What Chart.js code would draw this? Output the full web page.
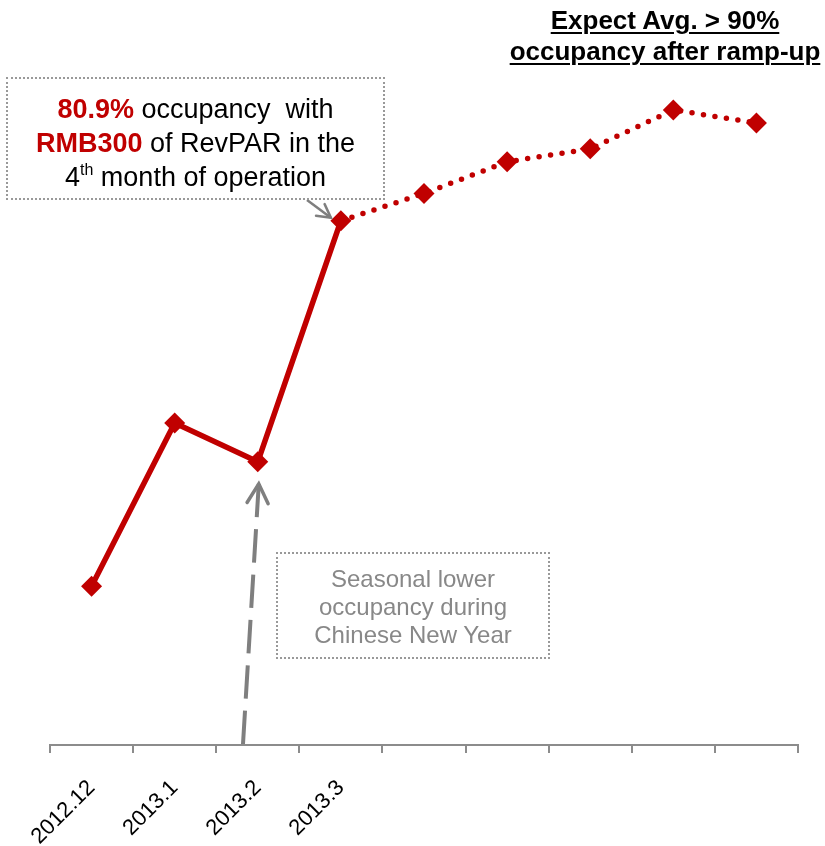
<!DOCTYPE html>
<html><head><meta charset="utf-8">
<script src="https://cdn.jsdelivr.net/npm/chart.js@4.4.1/dist/chart.umd.min.js"></script>
<style>
html,body{margin:0;padding:0;background:#fff;overflow:hidden;}
#wrap{position:relative;width:825px;height:846px;overflow:hidden;font-family:"Liberation Sans",Arial,sans-serif;}
#c{position:absolute;left:0;top:0;}
.title{position:absolute;left:465px;width:400px;top:5px;text-align:center;font-weight:bold;font-size:26px;line-height:31px;color:#000;white-space:nowrap;}
.title span{text-decoration:underline;text-decoration-thickness:2px;text-underline-offset:3px;}
.box1{position:absolute;left:6px;top:77px;width:379px;height:123px;border:2px dotted #999;text-align:center;font-size:27px;line-height:34px;color:#000;padding-top:13px;box-sizing:border-box;white-space:nowrap;}
.box1 b{color:#c00000;}
.box1 .sup{font-size:16px;position:relative;top:-11px;}
.box2{position:absolute;left:276px;top:552px;width:274px;height:107px;border:2px dotted #999;text-align:center;font-size:24px;line-height:28px;color:#888;padding-top:11px;box-sizing:border-box;white-space:nowrap;}
</style></head>
<body><div id="wrap">
<canvas id="c" width="825" height="846"></canvas>
<div class="title"><span>Expect Avg. &gt; 90%</span><br><span>occupancy after ramp-up</span></div>
<div class="box1"><b>80.9%</b> occupancy&nbsp; with<br><b>RMB300</b> of RevPAR in the<br>4<span class="sup">th</span> month of operation</div>
<div class="box2">Seasonal lower<br>occupancy during<br>Chinese New Year</div>
</div>
<script>
const categories = ['2012.12','2013.1','2013.2','2013.3','2013.4','2013.5','2013.6','2013.7','2013.8'];
const tickLabels = ['2012.12','2013.1','2013.2','2013.3','','','','',''];
const occupancy = [24.5, 49.7, 43.7, 80.9, 85.1, 90.0, 92.0, 98.0, 96.0];
const RED = '#c00000';
const GRAY = '#7f7f7f';

function drawArrow(ctx, x0, y0, x1, y1, w, nDash, gap, head, hw) {
  ctx.save();
  ctx.strokeStyle = GRAY;
  ctx.lineWidth = w;
  ctx.lineCap = 'butt';
  if (nDash > 1) {
    const L = Math.hypot(x1 - x0, y1 - y0);
    const d = (L - (nDash - 1) * gap) / nDash;
    ctx.setLineDash([d, gap]);
  }
  ctx.beginPath();
  ctx.moveTo(x1, y1);
  ctx.lineTo(x0, y0);
  ctx.stroke();
  ctx.setLineDash([]);
  ctx.lineWidth = hw;
  ctx.lineCap = 'round';
  ctx.lineJoin = 'miter';
  const a = Math.atan2(y1 - y0, x1 - x0);
  ctx.beginPath();
  ctx.moveTo(x1 - head * Math.cos(a - 0.5), y1 - head * Math.sin(a - 0.5));
  ctx.lineTo(x1, y1);
  ctx.lineTo(x1 - head * Math.cos(a + 0.5), y1 - head * Math.sin(a + 0.5));
  ctx.stroke();
  ctx.restore();
}

const arrowPlugin = {
  id: 'arrows',
  afterDatasetsDraw(chart) {
    const {ctx, scales: {x, y}, chartArea} = chart;
    const px = i => x.getPixelForValue(i);
    const py = i => y.getPixelForValue(occupancy[i]);
    drawArrow(ctx, 307, 200, px(3) - 10, py(3) - 3, 2.5, 1, 0, 15, 2.5);
    drawArrow(ctx, 243, chartArea.bottom - 1, px(2) + 1, py(2) + 22, 4, 6, 12, 22, 3.5);
  }
};

new Chart(document.getElementById('c'), {
  type: 'line',
  data: {
    labels: categories,
    datasets: [{
      data: occupancy,
      borderColor: RED,
      backgroundColor: RED,
      borderWidth: 5.5,
      borderCapStyle: 'round',
      borderJoinStyle: 'round',
      pointStyle: 'rectRot',
      pointRadius: 10.5,
      pointBorderWidth: 0,
      pointBackgroundColor: RED,
      tension: 0,
      clip: false,
      segment: {
        borderDash: c => c.p0DataIndex >= 3 ? [0, 11.6] : undefined
      }
    }]
  },
  options: {
    responsive: false,
    animation: false,
    devicePixelRatio: 1,
    layout: {padding: {left: 50, right: 27, top: 97, bottom: 0}},
    plugins: {legend: {display: false}, tooltip: {enabled: false}},
    scales: {
      x: {
        offset: true,
        grid: {offset: true, drawOnChartArea: false, drawTicks: true, tickLength: 8, color: '#8c8c8c', lineWidth: 2},
        border: {color: '#8c8c8c', width: 2},
        ticks: {
          autoSkip: false, maxRotation: 45, minRotation: 45, color: '#000', padding: 22,
          font: {size: 22, family: '"Liberation Sans", Arial, sans-serif'},
          callback: (v, i) => tickLabels[i]
        },
        afterFit: s => { s.height = 101; }
      },
      y: {display: false, min: 0, max: 100}
    }
  },
  plugins: [arrowPlugin]
});
</script>
</body></html>
